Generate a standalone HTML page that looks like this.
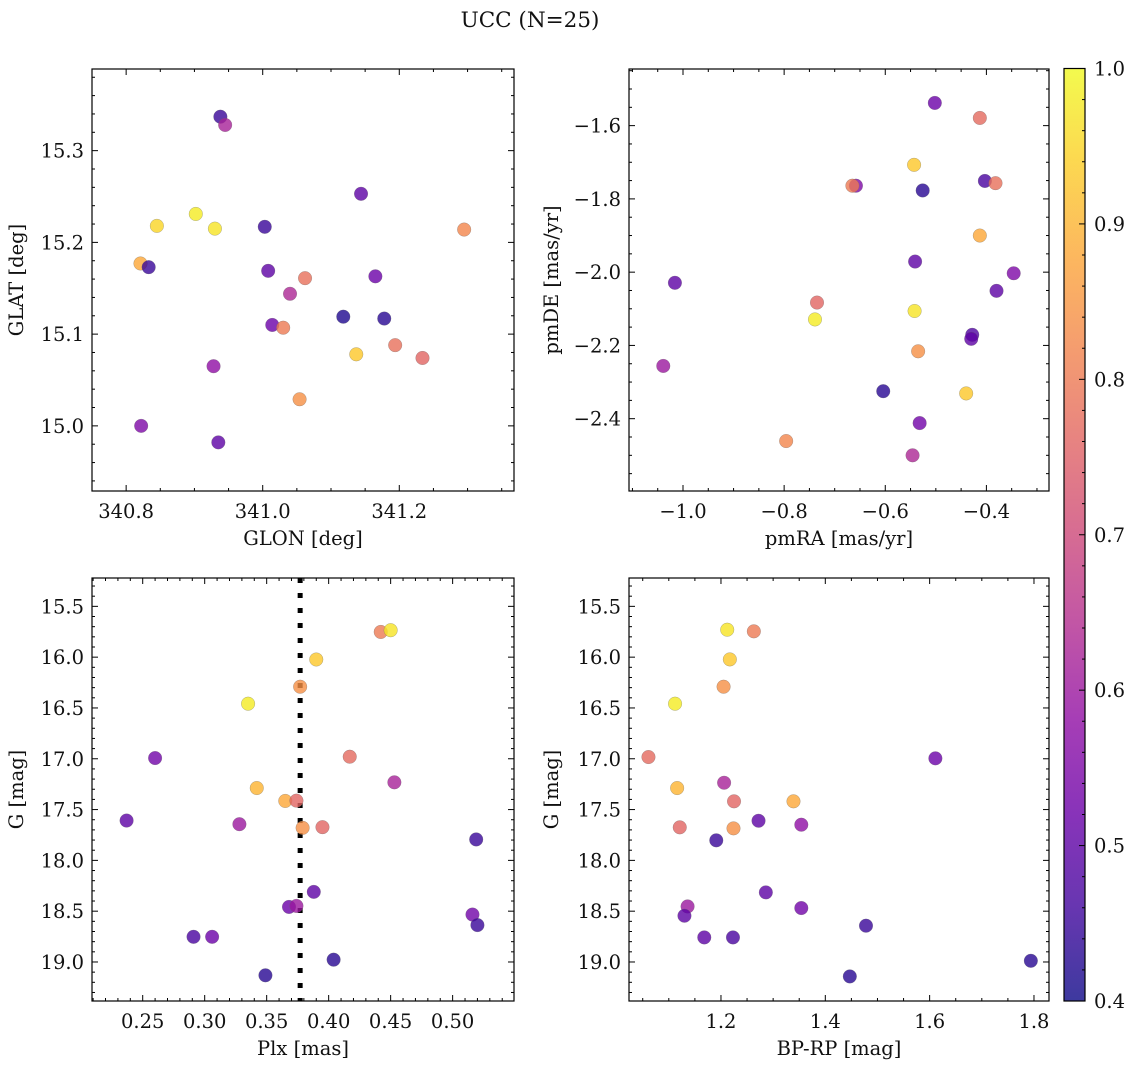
<!DOCTYPE html>
<html><head><meta charset="utf-8"><style>
body{margin:0;background:#fff}
svg{display:block}
text{font-family:"DejaVu Serif","Liberation Serif",serif;fill:#111}
</style></head><body>
<svg id="fig" width="1136" height="1068" viewBox="0 0 1136 1068" xmlns="http://www.w3.org/2000/svg">
<defs>
<linearGradient id="plasma" x1="0" y1="1" x2="0" y2="0">
<stop offset="0" stop-color="#0d0887"/><stop offset="0.1" stop-color="#41049d"/><stop offset="0.2" stop-color="#6a00a8"/><stop offset="0.3" stop-color="#8f0da4"/><stop offset="0.4" stop-color="#b12a90"/><stop offset="0.5" stop-color="#cc4778"/><stop offset="0.6" stop-color="#e16462"/><stop offset="0.7" stop-color="#f2844b"/><stop offset="0.8" stop-color="#fca636"/><stop offset="0.9" stop-color="#fcce25"/><stop offset="1" stop-color="#f0f921"/>
</linearGradient>
</defs>
<text x="530" y="27" font-size="21.5" text-anchor="middle">UCC (N=25)</text>
</svg>
<script>
// ---- data ----
const glon = [340.938,340.945,341.144,340.845,340.902,340.930,341.003,341.295,340.821,340.833,341.008,341.062,341.165,341.040,341.118,341.178,341.014,341.030,341.137,341.194,341.234,340.928,341.054,340.822,340.935];
const glat = [15.337,15.328,15.253,15.218,15.231,15.215,15.217,15.214,15.177,15.173,15.169,15.161,15.163,15.144,15.119,15.117,15.110,15.107,15.078,15.088,15.074,15.065,15.029,15.000,14.982];
const glonC = [0.45,0.62,0.5,0.95,0.98,0.97,0.45,0.82,0.88,0.45,0.5,0.78,0.52,0.63,0.42,0.43,0.52,0.8,0.93,0.78,0.76,0.58,0.84,0.55,0.5];

const pmra = [-0.502,-0.413,-0.543,-0.403,-0.382,-0.658,-0.665,-0.526,-0.413,-0.541,-0.346,-1.016,-0.380,-0.735,-0.739,-0.542,-0.428,-0.430,-0.535,-1.039,-0.604,-0.440,-0.532,-0.796,-0.546];
const pmde = [-1.538,-1.579,-1.707,-1.751,-1.757,-1.764,-1.764,-1.777,-1.900,-1.971,-2.003,-2.029,-2.051,-2.083,-2.129,-2.106,-2.171,-2.182,-2.216,-2.256,-2.325,-2.331,-2.412,-2.461,-2.500];
const pmC = [0.52,0.77,0.93,0.47,0.78,0.55,0.8,0.43,0.88,0.5,0.55,0.5,0.5,0.76,0.98,0.97,0.48,0.5,0.84,0.6,0.43,0.93,0.53,0.82,0.63];

const plx = [0.237,0.260,0.291,0.306,0.328,0.335,0.342,0.349,0.365,0.374,0.368,0.374,0.377,0.379,0.388,0.390,0.395,0.404,0.417,0.442,0.450,0.453,0.519,0.516,0.520];
const gPlx = [17.608,16.993,18.752,18.752,17.644,16.458,17.288,19.131,17.415,17.412,18.458,18.448,16.291,17.680,18.310,16.023,17.673,18.977,16.980,15.752,15.735,17.232,17.794,18.533,18.637];
const plxC = [0.5,0.53,0.47,0.52,0.6,0.98,0.9,0.43,0.88,0.76,0.52,0.6,0.84,0.84,0.5,0.93,0.76,0.43,0.77,0.8,0.97,0.62,0.45,0.53,0.45];
const plxLine = 0.377;

const bprp = [1.212,1.263,1.217,1.205,1.112,1.061,1.611,1.206,1.116,1.225,1.339,1.272,1.354,1.121,1.224,1.191,1.286,1.136,1.354,1.130,1.478,1.168,1.223,1.794,1.447];
const gCol = [15.730,15.746,16.022,16.291,16.458,16.983,16.996,17.236,17.288,17.419,17.419,17.610,17.649,17.675,17.685,17.803,18.315,18.453,18.469,18.545,18.643,18.758,18.758,18.988,19.142];
const colC = [0.97,0.8,0.93,0.84,0.98,0.77,0.52,0.62,0.9,0.76,0.88,0.5,0.58,0.76,0.84,0.45,0.5,0.6,0.53,0.5,0.45,0.5,0.47,0.43,0.43];

const cbTicks = [0.4,0.5,0.6,0.7,0.8,0.9,1.0];

// ---- helpers ----
const NS = "http://www.w3.org/2000/svg";
const svg = document.getElementById('fig');
const FS = 19.5;
const stops = [[13,8,135],[65,4,157],[106,0,168],[143,13,164],[177,42,144],[204,71,120],[225,100,98],[242,132,75],[252,166,54],[252,206,37],[240,249,33]];
function plasma(t){t=Math.max(0,Math.min(1,t));const f=t*10,i=Math.min(9,Math.floor(f)),r=f-i;const a=stops[i],b=stops[i+1];return `rgb(${a.map((v,k)=>Math.round(v+(b[k]-v)*r)).join(',')})`;}
function mk(tag,attrs,parent){const e=document.createElementNS(NS,tag);for(const k in attrs)e.setAttribute(k,attrs[k]);(parent||svg).appendChild(e);return e;}
function fmt(v,d){return (v<0?'\u2212':'')+Math.abs(v).toFixed(d);}

function panel(cfg){
  const {L,R,T,B,xmin,xmax,ymin,ymax,invY}=cfg;
  const g=mk('g',{});
  
  
  const sx=v=>L+(v-xmin)/(xmax-xmin)*(R-L);
  const sy=v=>invY? T+(v-ymin)/(ymax-ymin)*(B-T) : B-(v-ymin)/(ymax-ymin)*(B-T);
  const tg=mk('g',{stroke:'#000','stroke-width':1},g);
  
  
  const eps=1e-9;
  for(let v=Math.ceil(xmin/cfg.xminor-eps)*cfg.xminor; v<=xmax+eps; v+=cfg.xminor){
    const x=sx(v);const isMaj=Math.abs(v/cfg.xmajor-Math.round(v/cfg.xmajor))<1e-6;const len=isMaj?6:3;
    mk('line',{x1:x,x2:x,y1:B,y2:B-len},tg);mk('line',{x1:x,x2:x,y1:T,y2:T+len},tg);
    if(isMaj){const t=mk('text',{x:x,y:B+27,'font-size':FS,'text-anchor':'middle',stroke:'none'},g);t.textContent=fmt(v,cfg.xd);
      }
  }
  for(let v=Math.ceil(ymin/cfg.yminor-eps)*cfg.yminor; v<=ymax+eps; v+=cfg.yminor){
    const y=sy(v);const isMaj=Math.abs(v/cfg.ymajor-Math.round(v/cfg.ymajor))<1e-6;const len=isMaj?6:3;
    mk('line',{x1:L,x2:L+len,y1:y,y2:y},tg);mk('line',{x1:R,x2:R-len,y1:y,y2:y},tg);
    if(isMaj){const t=mk('text',{x:L-8,y:y+7,'font-size':FS,'text-anchor':'end',stroke:'none'},g);t.textContent=fmt(v,cfg.yd);
      }
  }
  if(cfg.vline!==undefined){
    const ln=mk('line',{x1:sx(cfg.vline),x2:sx(cfg.vline),y1:T,y2:B,stroke:'#000','stroke-width':5,'stroke-dasharray':'5 10'},g);
    
    
  }
  const pg=mk('g',{},g);
  
  
  cfg.xs.forEach((xv,i)=>{
    const c=mk('circle',{cx:sx(xv),cy:sy(cfg.ys[i]),r:6.8,fill:plasma((cfg.cs[i]-0.4)/0.6),'fill-opacity':0.8,stroke:'#666','stroke-opacity':0.5,'stroke-width':0.5},pg);
    
    
  });
  const fr=mk('rect',{x:L,y:T,width:R-L,height:B-T,fill:'none',stroke:'#000','stroke-width':1.2},g);
  
  
  const xl=mk('text',{x:(L+R)/2,y:B+54,'font-size':FS,'text-anchor':'middle'},g);xl.textContent=cfg.xlabel;
  
  const yl=mk('text',{x:0,y:0,'font-size':FS,'text-anchor':'middle',transform:`translate(${cfg.ylx},${(T+B)/2}) rotate(-90)`},g);yl.textContent=cfg.ylabel;
  
}

panel({name:'glon-glat-panel',L:92,R:514,T:69,B:491,xmin:340.750,xmax:341.368,ymin:14.929,ymax:15.389,xmajor:0.2,xminor:0.05,ymajor:0.1,yminor:0.02,xd:1,yd:1,xs:glon,ys:glat,cs:glonC,xlabel:'GLON [deg]',ylabel:'GLAT [deg]',ylx:23});
panel({name:'proper-motion-panel',L:629,R:1049,T:69,B:491,xmin:-1.1068,xmax:-0.2762,ymin:-2.5974,ymax:-1.4454,xmajor:0.2,xminor:0.05,ymajor:0.2,yminor:0.05,xd:1,yd:1,xs:pmra,ys:pmde,cs:pmC,xlabel:'pmRA [mas/yr]',ylabel:'pmDE [mas/yr]',ylx:558});
panel({name:'plx-g-panel',L:92,R:514,T:578,B:1001,xmin:0.2091,xmax:0.5495,ymin:15.221,ymax:19.384,invY:true,xmajor:0.05,xminor:0.01,ymajor:0.5,yminor:0.1,xd:2,yd:1,xs:plx,ys:gPlx,cs:plxC,vline:plxLine,xlabel:'Plx [mas]',ylabel:'G [mag]',ylx:23});
panel({name:'cmd-panel',L:629,R:1049,T:578,B:1001,xmin:1.0237,xmax:1.8288,ymin:15.221,ymax:19.384,invY:true,xmajor:0.2,xminor:0.05,ymajor:0.5,yminor:0.1,xd:1,yd:1,xs:bprp,ys:gCol,cs:colC,xlabel:'BP-RP [mag]',ylabel:'G [mag]',ylx:558});

// colorbar
(function(){
  const L=1064,R=1085,T=68.5,B=1001;
  const g=mk('g',{});
  
  
  const r=mk('rect',{x:L,y:T,width:R-L,height:B-T,fill:'url(#plasma)','fill-opacity':0.8},g);
  
  
  const sy=v=>B-(v-0.4)/0.6*(B-T);
  for(let k=0;k<=30;k++){const v=0.4+k*0.02;const y=sy(v);const maj=k%5===0;
    if(k>0&&k<30) mk('line',{x1:R,x2:R-(maj?6:3),y1:y,y2:y,stroke:'#000','stroke-width':1},g);}
  cbTicks.forEach(v=>{const t=mk('text',{x:R+9,y:sy(v)+7,'font-size':FS},g);t.textContent=v.toFixed(1);
    });
  mk('rect',{x:L,y:T,width:R-L,height:B-T,fill:'none',stroke:'#000','stroke-width':1.2},g);
})();
</script>
</body></html>
